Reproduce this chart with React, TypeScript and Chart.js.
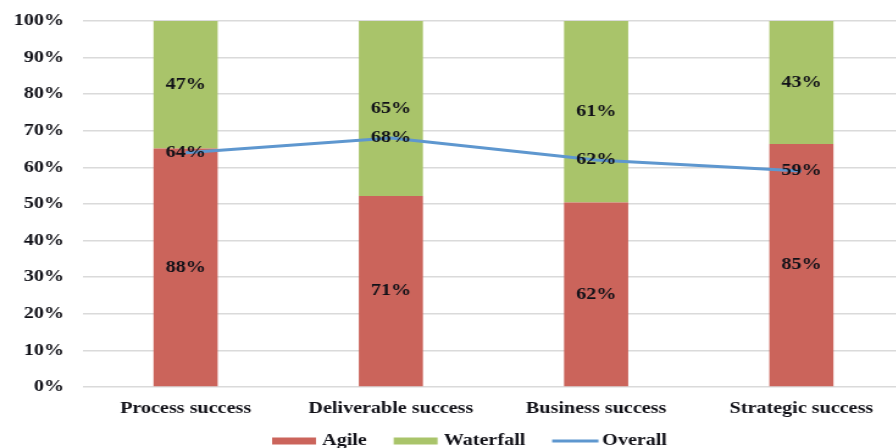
import React, { useEffect, useRef } from 'react';
import { Chart, registerables } from 'chart.js';

Chart.register(...registerables);

// ---- data ----
const categories = ['Process success', 'Deliverable success', 'Business success', 'Strategic success'];
const agileRaw = [88, 71, 62, 85];
const waterfallRaw = [47, 65, 61, 43];
const overall = [64, 68, 62, 59];
const yTickLabels = ['0%', '10%', '20%', '30%', '40%', '50%', '60%', '70%', '80%', '90%', '100%'];

// 100% stacked shares
const agileShare = agileRaw.map((a, i) => (a / (a + waterfallRaw[i])) * 100);
const waterfallShare = waterfallRaw.map((w, i) => (w / (agileRaw[i] + w)) * 100);

// ---- styling ----
const STRETCH = 1.22;
const CANVAS_W = 741;
const CANVAS_H = 448;
const FONT_FAMILY = '"Liberation Serif", "Times New Roman", serif';
const TEXT_COLOR = '#111118';
const AGILE_COLOR = '#CB645B';
const WATERFALL_COLOR = '#A9C46A';
const OVERALL_COLOR = '#5E97CF';

const valueLabelPlugin = {
  id: 'valueLabels',
  afterDatasetsDraw(chart: any) {
    const ctx = chart.ctx;
    ctx.save();
    ctx.font = `bold 16.5px ${FONT_FAMILY}`;
    ctx.fillStyle = TEXT_COLOR;
    ctx.textAlign = 'center';
    ctx.textBaseline = 'middle';
    chart.data.datasets.forEach((ds: any, di: number) => {
      const meta = chart.getDatasetMeta(di);
      meta.data.forEach((el: any, i: number) => {
        const txt = ds.valueLabels[i] + '%';
        const y = ds.type === 'line' ? el.y : (el.y + el.base) / 2;
        ctx.fillText(txt, el.x, y);
      });
    });
    ctx.restore();
  },
};

const legendPlugin = {
  id: 'customLegend',
  afterDraw(chart: any) {
    const ctx = chart.ctx;
    ctx.save();
    ctx.font = `bold 16.5px ${FONT_FAMILY}`;
    ctx.fillStyle = TEXT_COLOR;
    ctx.textAlign = 'left';
    ctx.textBaseline = 'middle';
    const order = [1, 2, 0];
    let x = 223;
    const yMid = 441;
    const boxW = 36;
    const gap = 5;
    const spacing = 22;
    order.forEach((di) => {
      const ds: any = chart.data.datasets[di];
      if (ds.type === 'line') {
        ctx.strokeStyle = ds.borderColor;
        ctx.lineWidth = 3;
        ctx.beginPath();
        ctx.moveTo(x, yMid);
        ctx.lineTo(x + boxW + 2, yMid);
        ctx.stroke();
      } else {
        ctx.fillStyle = ds.backgroundColor;
        ctx.fillRect(x, yMid - 3.5, boxW, 7);
      }
      ctx.fillStyle = TEXT_COLOR;
      const tx = x + boxW + gap;
      ctx.fillText(ds.label, tx, yMid);
      x = tx + ctx.measureText(ds.label).width + spacing;
    });
    ctx.restore();
  },
};

export default function App() {
  const canvasRef = useRef<HTMLCanvasElement | null>(null);

  useEffect(() => {
    if (!canvasRef.current) return;
    const tickFont = { family: FONT_FAMILY, size: 16.5, weight: 'bold' as const };
    const chart = new Chart(canvasRef.current, {
      type: 'bar',
      data: {
        labels: categories,
        datasets: [
          {
            type: 'line' as const,
            label: 'Overall',
            data: overall,
            valueLabels: overall,
            borderColor: OVERALL_COLOR,
            backgroundColor: OVERALL_COLOR,
            borderWidth: 3,
            pointRadius: 0,
            tension: 0,
            stack: 'overall',
            order: 0,
          } as any,
          {
            type: 'bar' as const,
            label: 'Agile',
            data: agileShare,
            valueLabels: agileRaw,
            backgroundColor: AGILE_COLOR,
            borderWidth: 0,
            barPercentage: 0.3125,
            categoryPercentage: 1,
            stack: 'share',
            order: 1,
          } as any,
          {
            type: 'bar' as const,
            label: 'Waterfall',
            data: waterfallShare,
            valueLabels: waterfallRaw,
            backgroundColor: WATERFALL_COLOR,
            borderWidth: 0,
            barPercentage: 0.3125,
            categoryPercentage: 1,
            stack: 'share',
            order: 1,
          } as any,
        ],
      },
      options: {
        responsive: false,
        animation: false,
        layout: { padding: { top: 21, right: 0, bottom: 0, left: 0 } },
        plugins: {
          legend: { display: false },
          tooltip: { enabled: false },
        },
        scales: {
          x: {
            stacked: true,
            grid: { display: false },
            border: { display: false },
            ticks: { font: tickFont, color: TEXT_COLOR, padding: 4, maxRotation: 0 },
            afterFit: (s: any) => {
              s.height = 61;
            },
          },
          y: {
            stacked: true,
            min: 0,
            max: 100,
            grid: { color: '#DADADA', lineWidth: 1.6, drawTicks: false },
            border: { display: false },
            ticks: {
              stepSize: 10,
              font: tickFont,
              color: TEXT_COLOR,
              padding: 15.5,
              callback: (_v: any, i: number) => yTickLabels[i],
            },
            afterFit: (s: any) => {
              s.width = 68;
              s.paddingTop = 0;
              s.paddingBottom = 0;
            },
          },
        },
      } as any,
      plugins: [valueLabelPlugin, legendPlugin],
    });
    return () => chart.destroy();
  }, []);

  return (
    <div
      style={{
        position: 'fixed',
        left: 0,
        top: 0,
        width: 896,
        height: 448,
        overflow: 'hidden',
        background: '#fff',
      }}
    >
      <div
        style={{
          width: CANVAS_W,
          height: CANVAS_H,
          transform: `scaleX(${STRETCH})`,
          transformOrigin: '0 0',
        }}
      >
        <canvas
          ref={canvasRef}
          width={CANVAS_W}
          height={CANVAS_H}
          style={{ width: CANVAS_W, height: CANVAS_H, display: 'block' }}
        />
      </div>
    </div>
  );
}
